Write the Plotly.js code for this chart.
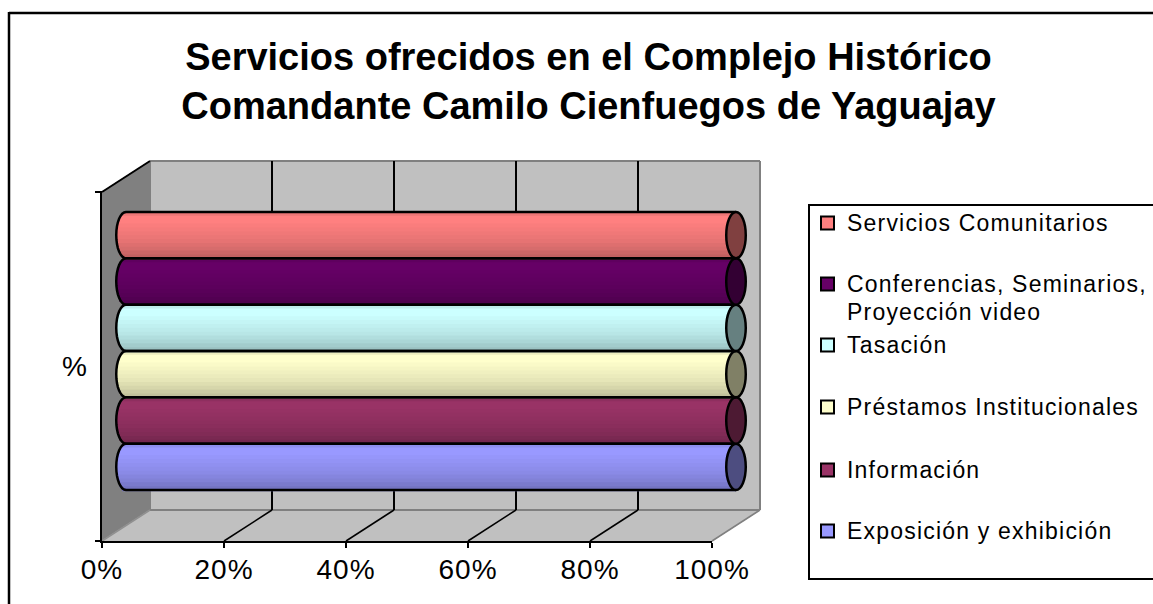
<!DOCTYPE html>
<html>
<head>
<meta charset="utf-8">
<script src="https://cdn.plot.ly/plotly-3.0.1.min.js"></script>
<style>html,body{margin:0;padding:0;background:#fff;overflow:hidden}#c{width:1153px;height:604px}
.xtick text{letter-spacing:1px}
</style>
</head>
<body>
<div id="c"></div>
<script>
const seriesNames = ['Exposición y exhibición','Información','Préstamos Institucionales','Tasación','Conferencias, Seminarios,|Proyección video','Servicios Comunitarios'];
const seriesValues = [100,100,100,100,100,100];
const seriesColors = [[153,153,255],[153,51,102],[255,255,204],[204,255,255],[102,0,102],[255,128,128]];
const xTicks = [0,20,40,60,80,100];
const shadeProfile = [0.93,1,1,0.98,0.96,0.94,0.92,0.9,0.87,0.84,0.8,0.76];
const legendSwatchY = [531,470,407,345,284,223];
const legendLineStep = 28;

const W=1153,H=604;
const px=x=>x/W, py=y=>1-y/H;
const rgb=(c,k)=>`rgb(${c.map(v=>Math.round(v*k)).join(',')})`;
const F={x0:102,x1:712,yTop:192,yBot:541};
const dx=48,dy=-31;
const B={x0:F.x0+dx,x1:F.x1+dx,yTop:F.yTop+dy,yBot:F.yBot+dy};
const capA=1.6;
const barPx=(F.x1-F.x0)/100, rowPx=(490-212)/6;

const poly=(pts,fill,line,w)=>({type:'path',xref:'paper',yref:'paper',layer:'below',
  path:'M'+pts.map(p=>px(p[0])+','+py(p[1])).join('L')+'Z',fillcolor:fill,line:{color:line||fill,width:w===undefined?1:w}});
const seg=(x0,y0,x1,y1,c,w)=>({type:'line',xref:'paper',yref:'paper',layer:'below',x0:px(x0),y0:py(y0),x1:px(x1),y1:py(y1),line:{color:c,width:w}});

const shapes=[];
shapes.push(poly([[F.x0,F.yTop],[B.x0,B.yTop],[B.x0,B.yBot],[F.x0,F.yBot]],'#808080'));
shapes.push(poly([[B.x0,B.yTop],[B.x1,B.yTop],[B.x1,B.yBot],[B.x0,B.yBot]],'#c0c0c0'));
shapes.push(poly([[F.x0,F.yBot],[F.x1,F.yBot],[B.x1,B.yBot],[B.x0,B.yBot]],'#c0c0c0'));
shapes.push(seg(B.x0,B.yTop,B.x1,B.yTop,'#808080',2));
shapes.push(seg(B.x0,B.yTop,B.x0,B.yBot,'#808080',2));
shapes.push(seg(B.x1,B.yTop,B.x1,B.yBot,'#808080',2));
shapes.push(seg(B.x0,B.yBot,B.x1,B.yBot,'#808080',2));
shapes.push(seg(F.x0,F.yBot,B.x0,B.yBot,'#909090',1.5));
shapes.push(seg(F.x1,F.yBot,B.x1,B.yBot,'#808080',1.5));
shapes.push(seg(F.x0-5,F.yTop,F.x0,F.yTop,'#000',2));
shapes.push(seg(F.x0,F.yTop,B.x0,B.yTop,'#000',2));
xTicks.slice(1,-1).forEach(t=>{
  const xf=F.x0+(F.x1-F.x0)*t/100, xb=xf+dx;
  shapes.push(seg(xb,B.yTop,xb,B.yBot,'#000',2));
  shapes.push(seg(xf,F.yBot,xb,B.yBot,'#000',1.5));
});
shapes.push(seg(9,13,W+5,13,'#000',2.5));
shapes.push(seg(9,12,9,H+5,'#000',2.5));
shapes.push(poly([[809,205],[W+5,205],[W+5,579],[809,579]],'#fff','#000',2));

const traces=[{type:'scatter',mode:'none',x:[0,100],y:[0,1],xaxis:'x',yaxis:'y',hoverinfo:'skip',showlegend:false}];
const n=shadeProfile.length;
seriesNames.forEach((name,i)=>{
  const v=seriesValues[i],c=seriesColors[i];
  const ys=[],xs=[],bases=[],widths=[],offs=[],cols=[];
  const lap=1.2/rowPx;
  shadeProfile.forEach((k,j)=>{
    const tm=(j+0.5)/n;
    const b=-capA*Math.sqrt(1-Math.pow(2*tm-1,2));
    ys.push(i);bases.push(b);xs.push(v-b);widths.push(1/n+lap);offs.push(0.5-(j+1)/n-lap);cols.push(rgb(c,k));
  });
  traces.push({type:'bar',orientation:'h',name:name.replace('|',' '),x:xs,y:ys,base:bases,width:widths,offset:offs,
    marker:{color:cols,line:{width:0}},xaxis:'x2',yaxis:'y2',showlegend:false,hoverinfo:'name'});
  const arc=[];
  for(let s=0;s<=16;s++){const a=Math.PI*s/16;arc.push([-capA*Math.sin(a),i+0.5*Math.cos(a)]);}
  const path='M'+v+','+(i+0.5)+'L'+arc.map(p=>p[0]+','+p[1]).join('L')+'L'+v+','+(i-0.5);
  shapes.push({type:'path',xref:'x2',yref:'y2',layer:'above',path:path,line:{color:'#000',width:2.5}});
  shapes.push({type:'circle',xref:'x2',yref:'y2',layer:'above',x0:v-capA,x1:v+capA,y0:i-0.5,y1:i+0.5,
    fillcolor:rgb(c,0.5),line:{color:'#000',width:2.5}});
});

const annotations=[];
const ff='Liberation Sans, Arial, sans-serif';
seriesNames.forEach((name,i)=>{
  const sy=legendSwatchY[i];
  shapes.push({type:'rect',xref:'paper',yref:'paper',layer:'above',x0:px(821),x1:px(834),y0:py(sy+6.5),y1:py(sy-6.5),
    fillcolor:rgb(seriesColors[i],1),line:{color:'#000',width:2}});
  name.split('|').forEach((line,li)=>{
    annotations.push({xref:'paper',yref:'paper',x:px(846),y:py(sy+li*legendLineStep),xanchor:'left',yanchor:'middle',align:'left',
      showarrow:false,borderpad:0,text:line,font:{family:ff,size:23,color:'#000'}});
  });
});
annotations.push({xref:'paper',yref:'paper',x:px(74),y:py(366),xanchor:'center',yanchor:'middle',showarrow:false,text:'%',
  font:{family:ff,size:28,color:'#000'}});

const layout={
  width:W,height:H,margin:{l:0,r:0,t:0,b:0},paper_bgcolor:'#fff',plot_bgcolor:'rgba(0,0,0,0)',showlegend:false,
  barmode:'overlay',
  font:{family:ff,color:'#000'},
  title:{text:'<b>Servicios ofrecidos en el Complejo Histórico<br>Comandante Camilo Cienfuegos de Yaguajay</b>',
    x:px(588.5),xanchor:'center',y:py(70),yanchor:'middle',xref:'paper',yref:'paper',font:{size:38,color:'#000'}},
  xaxis:{domain:[px(F.x0),px(F.x1)],range:[0,100],anchor:'y',tickvals:xTicks,ticktext:xTicks.map(t=>t+'%'),
    ticks:'outside',ticklen:5,tickwidth:2,tickcolor:'#000',showline:true,linecolor:'#000',linewidth:2,showgrid:false,zeroline:false,
    tickfont:{size:28,color:'#000'},ticklabelstandoff:-3},
  yaxis:{domain:[py(F.yBot),py(F.yTop)],range:[0,1],anchor:'x',showticklabels:false,tickvals:[0,1],
    ticks:'outside',ticklen:5,tickwidth:2,tickcolor:'#000',showline:true,linecolor:'#000',linewidth:2,showgrid:false,zeroline:false},
  xaxis2:{domain:[px(F.x0+24-4*barPx),px(F.x1+24+4*barPx)],range:[-4,104],anchor:'y2',visible:false},
  yaxis2:{domain:[py(490+rowPx*0.1),py(212-rowPx*0.1)],range:[-0.6,5.6],anchor:'x2',visible:false},
  shapes:shapes,annotations:annotations
};
Plotly.newPlot('c',traces,layout,{displayModeBar:false,staticPlot:true}).then(()=>{
  document.querySelectorAll('.annotation').forEach(a=>{
    const t=a.querySelector('text'); if(t && t.textContent!=='%'){t.style.letterSpacing='1.2px';}
  });
});
</script>
</body>
</html>
